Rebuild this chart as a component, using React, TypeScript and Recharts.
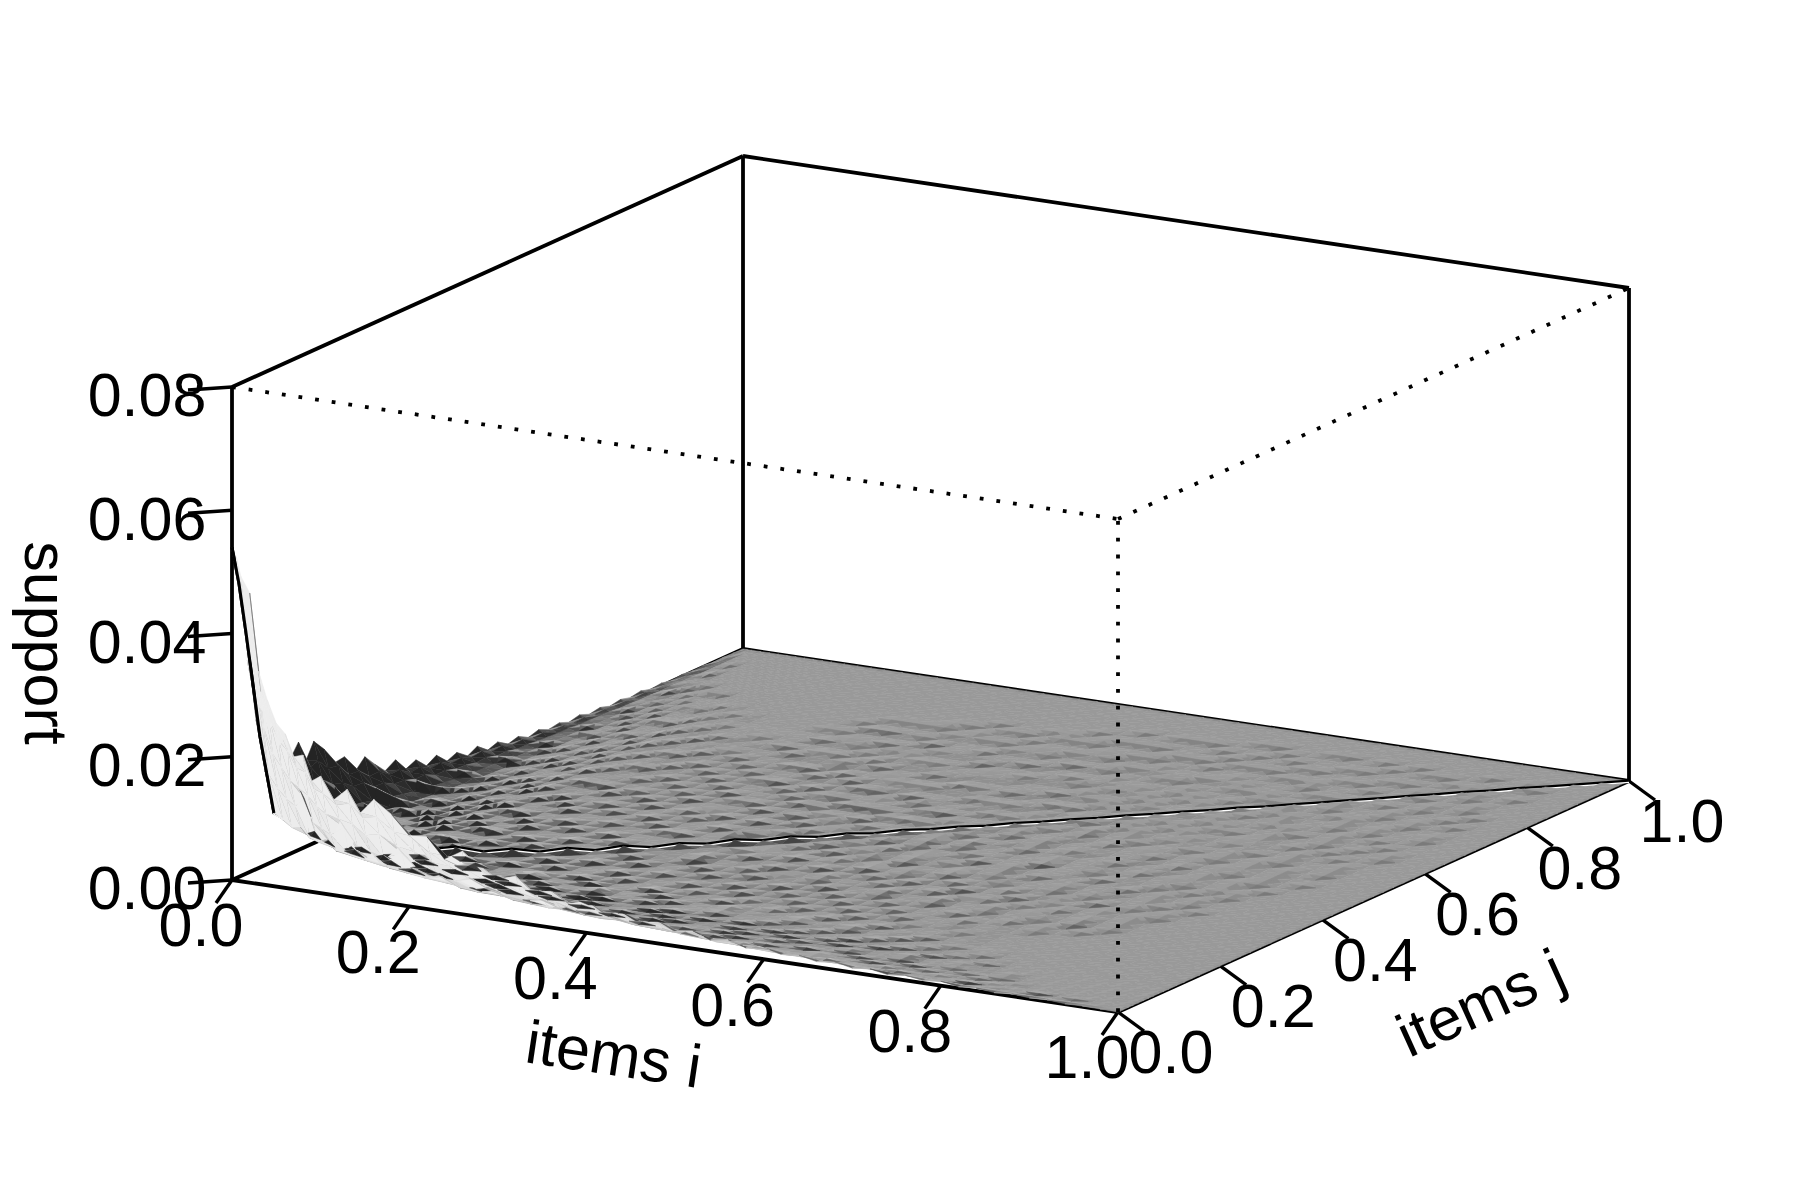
import React from "react";
import { ScatterChart, Scatter, XAxis, YAxis } from "recharts";

// grid positions of the surface, shared by items i and items j
const knots = [
  0, 0.005, 0.01, 0.02, 0.03, 0.04, 0.05, 0.06, 0.07, 0.08, 0.09, 0.1, 0.115, 0.13, 0.145, 0.16,
  0.18, 0.2, 0.22, 0.24, 0.26, 0.28, 0.3, 0.32, 0.34, 0.36, 0.38, 0.4, 0.42, 0.44, 0.46, 0.48,
  0.5, 0.52, 0.54, 0.56, 0.58, 0.6, 0.62, 0.64, 0.66, 0.68, 0.7, 0.72, 0.74, 0.76, 0.78, 0.8,
  0.82, 0.84, 0.86, 0.88, 0.9, 0.92, 0.94, 0.96, 0.98, 1,
];

// support in units of 5e-5, upper triangle (row = i knot, first entry is j = i), estimated by eye:
// the picture is symmetric in i and j; short rows are zero for the rest.
const supportUnit = 5e-5;
const supportUpper = [
  [1080,1050,990,940,690,600,530,500,430,440,360,380,310,350,280,330,290,230,235,170,205,165,130,150,105,120,85,105,70,84,56,74,46,58,36,46,28,38,24,30,18,26,14,20,10,16,8,14,5,9,3,7,3,5,1,2,1],
  [960,900,800,620,530,470,440,390,380,330,320,290,300,260,270,230,224,180,176,144,144,120,120,96,100,80,84,66,68,56,60,44,48,36,38,28,30,24,24,18,20,14,16,12,12,8,10,6,6,4,4,4,2,2,2],
  [800,660,500,420,380,340,320,300,270,250,240,230,200,210,180,170,144,140,112,110,92,88,76,76,60,60,50,48,40,42,32,32,24,24,20,18,16,16,12,12,10,10,6,6,4,4,2,4,2,2],
  [460,340,300,270,250,280,205,190,175,205,150,140,125,150,100,95,85,100,70,62,55,66,44,40,36,44,30,28,25,30,18,17,14,18,12,10,9,12,7,6,5,7,4,3,3,5,2,2,1,2,0,1],
  [208,190,170,175,145,135,150,115,108,100,112,85,78,70,82,55,50,60,41,37,33,42,27,24,28,19,17,15,19,12,10,13,8,7,6,8,5,4,3,5,2,2,3,1,1,2,1],
  [180,160,145,158,125,115,105,118,88,80,74,84,62,54,48,56,39,35,40,28,26,29,20,18,22,14,13,11,14,9,8,10,6,5,7,4,3,5,2,2,3,1,1,2,0,1],
  [160,130,120,126,100,92,104,78,71,65,74,54,48,43,50,34,30,36,24,22,20,25,16,14,12,15,10,9,12,7,6,5,8,4,3,5,2,2,4,1,1,2,1,1],
  [124,110,100,92,106,76,70,80,58,53,62,44,39,35,43,27,24,22,28,18,16,14,19,11,10,9,12,7,6,8,5,4,3,5,2,2,4,1,1,2,1,0,1],
  [112,90,84,78,70,84,58,52,62,44,40,36,46,28,25,31,20,18,16,20,13,12,15,9,8,7,10,6,5,7,4,3,5,2,2,4,1,1,2,1,0,1],
  [100,84,90,68,62,56,66,46,42,38,46,30,27,33,21,19,24,15,14,12,16,10,9,8,10,6,5,8,4,4,6,3,2,2,4,1,1,2,1],
  [92,70,64,72,53,48,44,52,36,32,38,26,23,21,27,17,15,13,18,11,10,13,8,7,6,8,5,4,6,3,3,5,2,2,3,1,1,2],
  [90,62,56,50,58,42,38,34,42,28,25,31,20,18,24,14,13,12,16,10,9,8,11,6,5,7,4,4,6,3,2,4,2,1,2,1,1],
  [76,52,58,42,38,44,31,28,25,30,20,18,23,14,13,17,11,10,9,12,7,6,8,5,4,6,3,3,5,2,2,3,1,1,2],
  [72,44,40,36,44,28,25,32,20,18,16,21,13,12,10,14,8,7,10,6,5,5,7,4,3,5,2,2,4,1,1,2,1,1],
  [54,36,44,28,25,22,27,18,16,21,12,11,10,14,8,7,6,9,5,5,4,6,3,3,5,2,2,1,3,1,1],
  [56,30,26,31,20,18,16,21,13,11,10,14,8,7,6,9,5,4,6,3,3,5,2,2,4,1,1,2,1,1],
  [34,22,19,17,22,13,12,10,14,8,7,6,9,5,4,6,3,3,5,2,2,4,1,1,2,1,1,2,1],
  [36,18,22,13,11,10,14,8,7,6,9,5,4,7,3,3,5,2,2,4,1,1,3,1,1,2,1,1],
  [20,14,12,16,9,8,7,10,6,5,4,7,3,3,5,2,2,4,1,1,3,1,1,1,3,1,1,0,1],
  [26,11,10,8,12,6,6,5,8,4,3,3,6,2,2,4,1,1,3,1,1,1,3,1,0,2,0,1,0,1],
  [12,9,12,7,6,5,8,4,4,6,3,2,2,5,1,1,3,1,1,3,0,1,2,0,1,1,0,2,0,1],
  [20,8,7,6,9,4,4,6,3,3,2,4,2,1,1,4,1,1,3,0,1,2,0,1,1,0,2,0,1],
  [9,7,6,9,4,4,3,6,2,2,4,1,1,3,1,1,3,0,1,2,0,1,0,2,0,1,0,1],
  [16,6,5,4,7,3,3,2,5,1,1,3,1,3,0,1,3,0,1,2,0,1,1,0,1,0,1,1],
  [8,5,5,4,3,6,2,2,1,4,1,2,0,1,3,1,0,2,0,1,1,0,2,0,1,0,1],
  [15,1,3,2,2,0,3,1,2,0,2,1,3,0,1,1,0,1,2,0,1,0,0,1,1,0,1],
  [6,2,3,0,3,1,2,0,3,1,0,2,1,2,1,0,1,2,0,1,1,0,1,0,1],
  [12,1,3,1,2,2,0,3,1,1,0,1,2,0,2,1,1,0,1,2,0,1,0,1],
  [4,2,2,1,3,0,2,1,0,3,1,2,0,1,1,0,2,1,0,1,0,1,0,1],
  [9,1,3,0,2,1,0,2,2,0,1,3,0,1,1,0,1,0,1,1,0,1,1],
  [3,2,1,3,0,2,1,1,0,1,2,0,1,1,0,2,0,1,1,0,1,0,1],
  [7,1,2,0,3,1,0,2,1,1,0,1,2,0,1,1,0,1,0,1,1,0],
  [3,1,2,1,0,1,2,0,2,1,0,1,1,0,2,0,1,1,0,1,0,1],
  [5,2,0,2,1,2,0,1,1,0,1,2,0,1,0,1,1,0,1,0],
  [2,1,2,0,1,1,0,2,0,1,1,0,1,1,0,1,0,1,0,1],
  [4,1,1,0,2,0,1,1,0,1,1,0,1,0,1,1,0,0,1],
  [2,0,1,2,0,1,0,1,1,0,0,1,1,0,1,0,0,1],
  [3,2,0,1,1,0,1,1,0,1,1,0,0,1,0,1,0],
  [1,1,1,0,1,1,0,0,1,1,0,1,0,1,0,0,1],
  [3,0,1,1,0,1,1,0,1,0,0,1,0,1,0,1],
  [1,1,0,1,1,0,0,1,1,0,1,0,0,1,0],
  [2,1,1,0,0,1,1,0,0,1,0,1,0],
  [1,0,1,0,1,0,0,1,0,1,0,0,1],
  [2,0,1,1,0,0,1,0,1,0,0,1],
  [0,1,0,0,1,1,0,0,1,0,0],
  [1,0,1,0,0,1,0,1,0,1],
  [0,1,0,0,1,0,0,1],
  [1,0,1,0,1,0,0,1],
  [0,0,0,1,0,1],
  [1,1,0,0,1],
  [0,0,1,0],
  [1,1,0,1],
  [0,0,0],
  [1,1],
];

const iTicks = [0, 0.2, 0.4, 0.6, 0.8, 1];
const jTicks = [0, 0.2, 0.4, 0.6, 0.8, 1];
const zTicks = [0, 0.02, 0.04, 0.06, 0.08];
const zMax = 0.08;

const W = 1800;
const H = 1200;
const I_X = 886;
const J_X = 511;
const Z_SPAN = 493;
const FONT = "'Liberation Sans', Arial, sans-serif";

// the box is a parallel projection, so three edge vectors are enough
function project(i: number, j: number, z: number) {
  return {
    x: 232 + I_X * i + J_X * j,
    y: 880 + 132 * i - 231 * j - (z / zMax) * Z_SPAN,
  };
}

function supportAt(r: number, c: number) {
  const a = Math.min(r, c);
  const b = Math.max(r, c);
  const row = supportUpper[a];
  return ((row && row[b - a]) || 0) * supportUnit;
}

const liftOf = (z: number) => z * (Z_SPAN / zMax);

// facets leaning towards -i / +j go light, the others dark; the base is the flat #999
function shade(s: number, darkGain: number, lightGain: number) {
  const lum =
    s < 0
      ? 0.6 - 0.46 * (1 - Math.exp((darkGain * s) / 0.46))
      : 0.6 + 0.33 * (1 - Math.exp((-lightGain * s) / 0.33));
  const v = Math.round(lum * 255);
  return `rgb(${v},${v},${v})`;
}

type Pt = { x: number; y: number };
type Facets = { x: number; y: number; depth: number; back: boolean; polys: { pts: string; fill: string }[] };

function buildCells() {
  const cells: Facets[] = [];
  const lift = (r: number, c: number) => liftOf(supportAt(r, c));
  for (let r = 0; r < knots.length - 1; r++) {
    for (let c = 0; c < knots.length - 1; c++) {
      const di = knots[r + 1] - knots[r];
      const dj = knots[c + 1] - knots[c];
      const p00 = project(knots[r], knots[c], supportAt(r, c));
      const p10 = project(knots[r + 1], knots[c], supportAt(r + 1, c));
      const p11 = project(knots[r + 1], knots[c + 1], supportAt(r + 1, c + 1));
      const p01 = project(knots[r], knots[c + 1], supportAt(r, c + 1));
      const s1 = (lift(r + 1, c) - lift(r, c)) / (I_X * di) - (lift(r + 1, c + 1) - lift(r + 1, c)) / (J_X * dj);
      const s2 = (lift(r + 1, c + 1) - lift(r, c + 1)) / (I_X * di) - (lift(r, c + 1) - lift(r, c)) / (J_X * dj);
      const x = (p00.x + p10.x + p11.x + p01.x) / 4;
      const y = (p00.y + p10.y + p11.y + p01.y) / 4;
      const rel = (p: Pt) => `${p.x - x},${p.y - y}`;
      cells.push({
        x,
        y,
        depth: 132 * knots[r] - 231 * knots[c],
        back: c >= r,
        polys: [
          { pts: [p00, p11, p01].map(rel).join(" "), fill: shade(s2, 1.2, 0.25) },
          { pts: [p00, p10, p11].map(rel).join(" "), fill: shade(s1, 1.2, 0.25) },
        ],
      });
    }
  }
  return cells.sort((a, b) => a.depth - b.depth);
}

// a grid value above its four neighbours is a small pyramid whose foot reaches most of the way to them
const FOOT = 0.75;

function buildPeaks() {
  const peaks: Facets[] = [];
  const n = knots.length;
  for (let r = 3; r < n - 1; r++) {
    for (let c = 3; c < n - 1; c++) {
      if (r === c) continue;
      const v = supportAt(r, c);
      const a = supportAt(r - 1, c);
      const b = supportAt(r + 1, c);
      const d = supportAt(r, c - 1);
      const e = supportAt(r, c + 1);
      const excess = v - (a + b + d + e) / 4;
      if (excess < 0.5 * supportUnit || excess < 0.08 * v) continue;
      const ti = knots[r];
      const tj = knots[c];
      const iA = ti + (knots[r - 1] - ti) * FOOT;
      const iB = ti + (knots[r + 1] - ti) * FOOT;
      const jC = tj + (knots[c - 1] - tj) * FOOT;
      const jD = tj + (knots[c + 1] - tj) * FOOT;
      const top = project(ti, tj, v);
      const foot = (o: number) => v + (o - v) * FOOT;
      const fA = project(iA, tj, foot(a));
      const fB = project(iB, tj, foot(b));
      const fC = project(ti, jC, foot(d));
      const fD = project(ti, jD, foot(e));
      const zA = liftOf((v - a) * FOOT) / (I_X * (ti - iA));
      const zB = -liftOf((v - b) * FOOT) / (I_X * (iB - ti));
      const zC = liftOf((v - d) * FOOT) / (J_X * (tj - jC));
      const zD = -liftOf((v - e) * FOOT) / (J_X * (jD - tj));
      const rel = (p: Pt) => `${p.x - top.x},${p.y - top.y}`;
      const face = (f: Pt, g: Pt, s: number) => ({
        pts: [top, f, g].map(rel).join(" "),
        fill: shade(s, 3, 0.6),
      });
      peaks.push({
        x: top.x,
        y: top.y,
        depth: 132 * ti - 231 * tj,
        back: c > r,
        polys: [face(fA, fD, zA - zD), face(fA, fC, zA - zC), face(fB, fD, zB - zD), face(fB, fC, zB - zC)],
      });
    }
  }
  return peaks.sort((x, y) => x.depth - y.depth);
}

const allCells = buildCells();
const backCells = allCells.filter((d) => d.back);
const frontCells = allCells.filter((d) => !d.back);
const allPeaks = buildPeaks();
const backPeaks = allPeaks.filter((d) => d.back);
const frontPeaks = allPeaks.filter((d) => !d.back);

const diagonal = knots.map((t, r) => project(t, t, supportAt(r, r)));
const diagonalLow = diagonal.map((p) => ({ x: p.x, y: p.y + 1.4 }));
const diagonalTip = diagonal.slice(0, 5);

const seg = (a: number[], b: number[]) => [project(a[0], a[1], a[2]), project(b[0], b[1], b[2])];

const solidBox = [
  seg([0, 0, zMax], [0, 1, zMax]),
  seg([0, 1, zMax], [1, 1, zMax]),
  seg([0, 1, 0], [0, 1, zMax]),
  seg([1, 1, 0], [1, 1, zMax]),
  seg([0, 1, 0], [1, 1, 0]),
  seg([0, 0, 0], [0, 1, 0]),
  seg([0, 0, 0], [0, 0, zMax]),
  seg([0, 0, 0], [1, 0, 0]),
  seg([1, 0, 0], [1, 1, 0]),
];
const dottedBox = [
  seg([0, 0, zMax], [1, 0, zMax]),
  seg([1, 0, zMax], [1, 1, zMax]),
  seg([1, 0, 0], [1, 0, zMax]),
];

const shift = (p: Pt, dx: number, dy: number) => ({ x: p.x + dx, y: p.y + dy });

const tickMarks = [
  ...zTicks.map((z) => {
    const p = project(0, 0, z);
    return [p, shift(p, -44, 3)];
  }),
  ...iTicks.map((t) => {
    const p = project(t, 0, 0);
    return [p, shift(p, -16, 23)];
  }),
  ...jTicks.map((t) => {
    const p = project(1, t, 0);
    return [p, shift(p, 26, 19)];
  }),
];

const tickLabels = [
  ...zTicks.map((z) => ({ ...shift(project(0, 0, z), -85, 8), text: z.toFixed(2) })),
  ...iTicks.map((t) => ({ ...shift(project(t, 0, 0), -31, 45), text: t.toFixed(1) })),
  ...jTicks.map((t) => ({ ...shift(project(1, t, 0), 53, 40), text: t.toFixed(1) })),
];

const titles = [
  { x: 613, y: 1060, text: "items i", angle: 8.5 },
  { x: 1483, y: 1008, text: "items j", angle: -24.3 },
  { x: 40, y: 643, text: "support", angle: 90 },
];

const noMark = () => <g />;

const FacetShape = (props: any) => (
  <g transform={`translate(${props.cx},${props.cy})`}>
    {props.payload.polys.map((p: { pts: string; fill: string }, k: number) => (
      <polygon key={k} points={p.pts} fill={p.fill} stroke={p.fill} strokeWidth={0.5} />
    ))}
  </g>
);

const LabelShape = (props: any) => (
  <text
    x={props.cx}
    y={props.cy}
    dy="0.35em"
    textAnchor="middle"
    fontFamily={FONT}
    fontSize={61}
    fill="#000"
  >
    {props.payload.text}
  </text>
);

const TitleShape = (props: any) => (
  <text
    x={props.cx}
    y={props.cy}
    dy="0.25em"
    textAnchor="middle"
    fontFamily={FONT}
    fontSize={61}
    fill="#000"
    transform={`rotate(${props.payload.angle} ${props.cx} ${props.cy})`}
  >
    {props.payload.text}
  </text>
);

const lineSeries = (
  key: string,
  data: Pt[],
  stroke: string,
  strokeWidth: number,
  strokeDasharray?: string,
) => (
  <Scatter
    key={key}
    data={data}
    shape={noMark}
    line={{ stroke, strokeWidth, strokeDasharray }}
    isAnimationActive={false}
  />
);

export default function App() {
  return (
    <div style={{ position: "absolute", left: 0, top: 0, width: W, height: H, background: "#fff" }}>
      <ScatterChart width={W} height={H} margin={{ top: 0, right: 0, bottom: 0, left: 0 }}>
        <XAxis type="number" dataKey="x" domain={[0, W]} hide />
        <YAxis type="number" dataKey="y" domain={[0, H]} reversed hide />
        {solidBox.map((s, k) => lineSeries(`box${k}`, s, "#000", 3.8))}
        {tickMarks.map((s, k) => lineSeries(`tick${k}`, s, "#000", 3.4))}
        <Scatter data={backCells} shape={FacetShape} isAnimationActive={false} />
        <Scatter data={backPeaks} shape={FacetShape} isAnimationActive={false} />
        {lineSeries("diagBlack", diagonal, "#000", 3)}
        {lineSeries("diagWhite", diagonalLow, "#fff", 1.3)}
        <Scatter data={frontCells} shape={FacetShape} isAnimationActive={false} />
        <Scatter data={frontPeaks} shape={FacetShape} isAnimationActive={false} />
        {lineSeries("diagTip", diagonalTip, "#000", 3)}
        {dottedBox.map((s, k) => lineSeries(`dot${k}`, s, "#000", 3.8, "3.8 13"))}
        <Scatter data={tickLabels} shape={LabelShape} isAnimationActive={false} />
        <Scatter data={titles} shape={TitleShape} isAnimationActive={false} />
      </ScatterChart>
    </div>
  );
}
